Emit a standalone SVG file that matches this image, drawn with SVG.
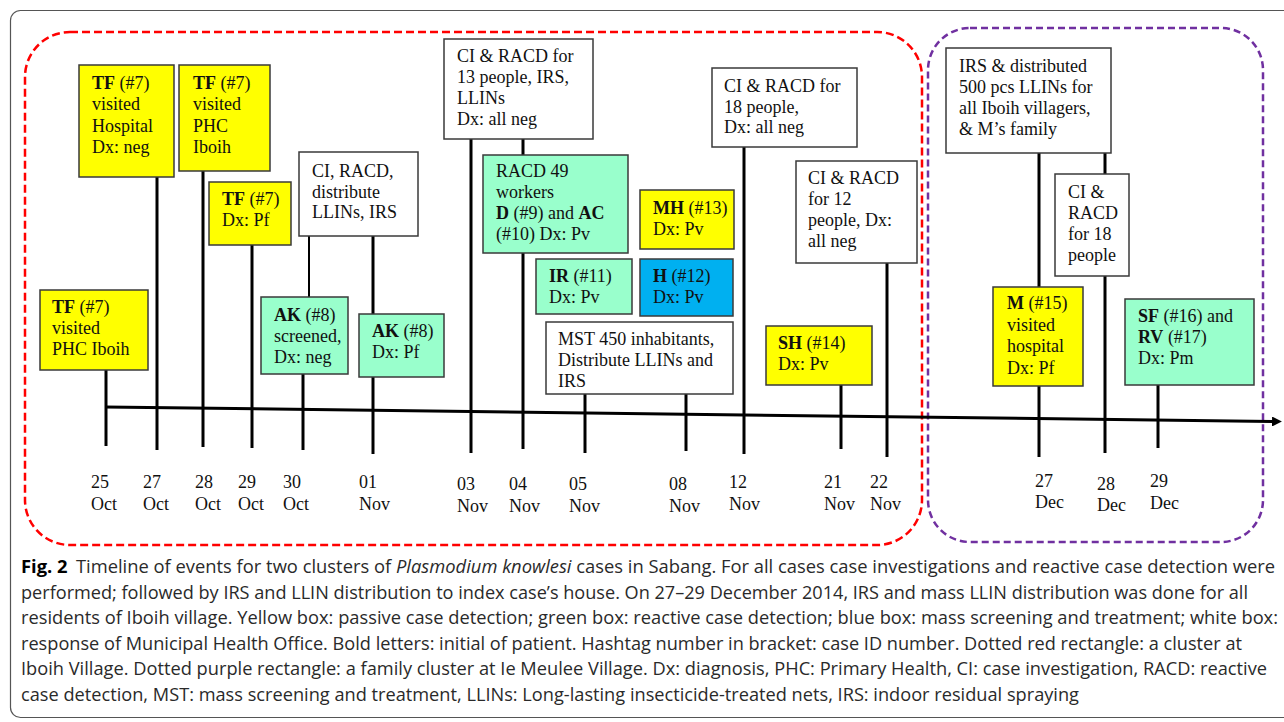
<svg xmlns="http://www.w3.org/2000/svg" width="1284" height="722" viewBox="0 0 1284 722">
<defs>
<style>
.frame{fill:#fff;stroke:#555;stroke-width:1.2}
.red{fill:none;stroke:#ff0000;stroke-width:2.5;stroke-dasharray:8 4}
.pur{fill:none;stroke:#7030a0;stroke-width:2.5;stroke-dasharray:7 4}
.bx{stroke:#3a3a3a;stroke-width:1.5}
.y{fill:#ffff00}.g{fill:#99ffcc}.bl{fill:#00b0f0}.w{fill:#fff}
.t{font-family:"Liberation Serif","Times New Roman",serif;font-size:18px;fill:#111}
.bd{font-weight:bold}
.tick{stroke:#000;stroke-width:3;fill:none}
.thin{stroke:#000;stroke-width:2;fill:none}
.cap{font-family:"Open Sans","Noto Sans",sans-serif;font-size:17.5px;fill:#2a2a2a}
</style>
<marker id="arr" viewBox="0 0 10 10" refX="2" refY="5" markerWidth="3.3" markerHeight="3.3" orient="auto" markerUnits="strokeWidth">
<path d="M0,0 L10,5 L0,10 z" fill="#000"/>
</marker>
</defs>
<rect class="frame" x="10.5" y="10.5" width="1300" height="707" rx="10"/>
<rect class="red" x="25" y="32" width="897" height="513" rx="45"/>
<rect class="pur" x="928" y="28" width="335" height="514" rx="42"/>

<g id="connectors">
<line class="tick" x1="105" y1="407" x2="1274" y2="421.5" marker-end="url(#arr)"/>
<line class="tick" x1="106" y1="370" x2="106" y2="446"/>
<line class="tick" x1="157" y1="177" x2="157" y2="450"/>
<line class="tick" x1="203" y1="171" x2="203" y2="447"/>
<line class="tick" x1="252" y1="245" x2="252" y2="448"/>
<line class="tick" x1="303" y1="374" x2="303" y2="450"/>
<line class="thin" x1="309" y1="236" x2="309" y2="297"/>
<line class="tick" x1="373" y1="236" x2="373" y2="454"/>
<line class="tick" x1="471" y1="139" x2="471" y2="453"/>
<line class="tick" x1="523" y1="139" x2="523" y2="449"/>
<line class="tick" x1="585" y1="394" x2="585" y2="453"/>
<line class="tick" x1="686" y1="394" x2="686" y2="451"/>
<line class="tick" x1="744" y1="147" x2="744" y2="454"/>
<line class="tick" x1="841" y1="385" x2="841" y2="449"/>
<line class="tick" x1="887" y1="263" x2="887" y2="457"/>
<line class="tick" x1="1039" y1="153" x2="1039" y2="457"/>
<line class="tick" x1="1105" y1="153" x2="1105" y2="453"/>
<line class="tick" x1="1158" y1="385" x2="1158" y2="448"/>
</g>

<g id="n1"><rect class="bx y" x="79" y="65" width="95" height="112"/>
<text class="t" x="92" y="89"><tspan class="bd">TF</tspan> (#7)<tspan x="92" dy="21.3">visited</tspan><tspan x="92" dy="21.3">Hospital</tspan><tspan x="92" dy="21.3">Dx: neg</tspan></text></g>
<g id="n2"><rect class="bx y" x="179" y="65" width="91" height="106"/>
<text class="t" x="193" y="89"><tspan class="bd">TF</tspan> (#7)<tspan x="193" dy="21.3">visited</tspan><tspan x="193" dy="21.3">PHC</tspan><tspan x="193" dy="21.3">Iboih</tspan></text></g>
<g id="n3"><rect class="bx y" x="209" y="182" width="82" height="63"/>
<text class="t" x="222" y="205"><tspan class="bd">TF</tspan> (#7)<tspan x="222" dy="21">Dx: Pf</tspan></text></g>
<g id="n4"><rect class="bx w" x="299" y="152" width="119" height="84"/>
<text class="t" x="312" y="177">CI, RACD,<tspan x="312" dy="20.7">distribute</tspan><tspan x="312" dy="20.7">LLINs, IRS</tspan></text></g>
<g id="n5"><rect class="bx y" x="40" y="290" width="108" height="80"/>
<text class="t" x="52" y="313"><tspan class="bd">TF</tspan> (#7)<tspan x="52" dy="21">visited</tspan><tspan x="52" dy="21">PHC Iboih</tspan></text></g>
<g id="n6"><rect class="bx g" x="261" y="297" width="87" height="77"/>
<text class="t" x="274" y="321"><tspan class="bd">AK</tspan> (#8)<tspan x="274" dy="21">screened,</tspan><tspan x="274" dy="21">Dx: neg</tspan></text></g>
<g id="n7"><rect class="bx g" x="359" y="314" width="85" height="63"/>
<text class="t" x="372" y="337"><tspan class="bd">AK</tspan> (#8)<tspan x="372" dy="20.5">Dx: Pf</tspan></text></g>
<g id="n8"><rect class="bx w" x="444" y="39" width="149" height="100"/>
<text class="t" x="457" y="62">CI &amp; RACD for<tspan x="457" dy="21">13 people, IRS,</tspan><tspan x="457" dy="21">LLINs</tspan><tspan x="457" dy="21">Dx: all neg</tspan></text></g>
<g id="n9"><rect class="bx g" x="483" y="155" width="145" height="98"/>
<text class="t" x="496" y="177">RACD 49<tspan x="496" dy="21">workers</tspan><tspan x="496" dy="21"><tspan class="bd">D</tspan> (#9) and <tspan class="bd">AC</tspan></tspan><tspan x="496" dy="21">(#10) Dx: Pv</tspan></text></g>
<g id="n10"><rect class="bx y" x="640" y="190" width="94" height="59"/>
<text class="t" x="653" y="214"><tspan class="bd">MH</tspan> (#13)<tspan x="653" dy="20.5">Dx: Pv</tspan></text></g>
<g id="n11"><rect class="bx g" x="536" y="259" width="96" height="55"/>
<text class="t" x="549" y="282"><tspan class="bd">IR</tspan> (#11)<tspan x="549" dy="20.5">Dx: Pv</tspan></text></g>
<g id="n12"><rect class="bx bl" x="640" y="259" width="93" height="57"/>
<text class="t" x="653" y="282"><tspan class="bd">H</tspan> (#12)<tspan x="653" dy="20.5">Dx: Pv</tspan></text></g>
<g id="n13"><rect class="bx w" x="546" y="322" width="187" height="72"/>
<text class="t" x="558" y="345">MST 450 inhabitants,<tspan x="558" dy="21">Distribute LLINs and</tspan><tspan x="558" dy="21">IRS</tspan></text></g>
<g id="n14"><rect class="bx w" x="712" y="68" width="145" height="79"/>
<text class="t" x="724" y="92">CI &amp; RACD for<tspan x="724" dy="20.7">18 people,</tspan><tspan x="724" dy="20.7">Dx: all neg</tspan></text></g>
<g id="n15"><rect class="bx w" x="796" y="161" width="121" height="102"/>
<text class="t" x="808" y="184">CI &amp; RACD<tspan x="808" dy="21">for 12</tspan><tspan x="808" dy="21">people, Dx:</tspan><tspan x="808" dy="21">all neg</tspan></text></g>
<g id="n16"><rect class="bx w" x="946" y="48" width="165" height="105"/>
<text class="t" x="959" y="72">IRS &amp; distributed<tspan x="959" dy="21">500 pcs LLINs for</tspan><tspan x="959" dy="21">all Iboih villagers,</tspan><tspan x="959" dy="21">&amp; M’s family</tspan></text></g>
<g id="n17"><rect class="bx w" x="1055" y="174" width="74" height="102"/>
<text class="t" x="1068" y="198">CI &amp;<tspan x="1068" dy="21">RACD</tspan><tspan x="1068" dy="21">for 18</tspan><tspan x="1068" dy="21">people</tspan></text></g>
<g id="n18"><rect class="bx y" x="993" y="287" width="90" height="99"/>
<text class="t" x="1007" y="309"><tspan class="bd">M</tspan> (#15)<tspan x="1007" dy="21.7">visited</tspan><tspan x="1007" dy="21.7">hospital</tspan><tspan x="1007" dy="21.7">Dx: Pf</tspan></text></g>
<g id="n19"><rect class="bx g" x="1125" y="299" width="129" height="86"/>
<text class="t" x="1138" y="322"><tspan class="bd">SF</tspan> (#16) and<tspan x="1138" dy="21" class="bd">RV</tspan> (#17)<tspan x="1138" dy="21">Dx: Pm</tspan></text></g>
<g id="n20"><rect class="bx y" x="766" y="326" width="106" height="59"/>
<text class="t" x="778" y="349"><tspan class="bd">SH</tspan> (#14)<tspan x="778" dy="21">Dx: Pv</tspan></text></g>

<g id="dates" class="t">
<text x="91" y="488">25<tspan x="91" dy="22">Oct</tspan></text>
<text x="143" y="488">27<tspan x="143" dy="22">Oct</tspan></text>
<text x="195" y="488">28<tspan x="195" dy="22">Oct</tspan></text>
<text x="238" y="488">29<tspan x="238" dy="22">Oct</tspan></text>
<text x="283" y="488">30<tspan x="283" dy="22">Oct</tspan></text>
<text x="359" y="488">01<tspan x="359" dy="22">Nov</tspan></text>
<text x="457" y="490">03<tspan x="457" dy="22">Nov</tspan></text>
<text x="509" y="490">04<tspan x="509" dy="22">Nov</tspan></text>
<text x="569" y="490">05<tspan x="569" dy="22">Nov</tspan></text>
<text x="669" y="490">08<tspan x="669" dy="22">Nov</tspan></text>
<text x="729" y="488">12<tspan x="729" dy="22">Nov</tspan></text>
<text x="824" y="488">21<tspan x="824" dy="22">Nov</tspan></text>
<text x="870" y="488">22<tspan x="870" dy="22">Nov</tspan></text>
<text x="1035" y="487">27<tspan x="1035" dy="21">Dec</tspan></text>
<text x="1097" y="490">28<tspan x="1097" dy="21">Dec</tspan></text>
<text x="1150" y="487">29<tspan x="1150" dy="22">Dec</tspan></text>
</g>

<g id="caption" class="cap">
<text x="21" y="573" textLength="1254" lengthAdjust="spacingAndGlyphs"><tspan font-weight="bold" fill="#000">Fig. 2</tspan><tspan dx="8">Timeline of events for two clusters of </tspan><tspan font-style="italic">Plasmodium knowlesi</tspan> cases in Sabang. For all cases case investigations and reactive case detection were</text>
<text x="21" y="598.5" textLength="1227" lengthAdjust="spacingAndGlyphs">performed; followed by IRS and LLIN distribution to index case’s house. On 27–29 December 2014, IRS and mass LLIN distribution was done for all</text>
<text x="21" y="624" textLength="1257" lengthAdjust="spacingAndGlyphs">residents of Iboih village. Yellow box: passive case detection; green box: reactive case detection; blue box: mass screening and treatment; white box:</text>
<text x="21" y="649.5" textLength="1221" lengthAdjust="spacingAndGlyphs">response of Municipal Health Office. Bold letters: initial of patient. Hashtag number in bracket: case ID number. Dotted red rectangle: a cluster at</text>
<text x="21" y="675" textLength="1246" lengthAdjust="spacingAndGlyphs">Iboih Village. Dotted purple rectangle: a family cluster at Ie Meulee Village. Dx: diagnosis, PHC: Primary Health, CI: case investigation, RACD: reactive</text>
<text x="21" y="700.5" textLength="1058" lengthAdjust="spacingAndGlyphs">case detection, MST: mass screening and treatment, LLINs: Long-lasting insecticide-treated nets, IRS: indoor residual spraying</text>
</g>
</svg>
